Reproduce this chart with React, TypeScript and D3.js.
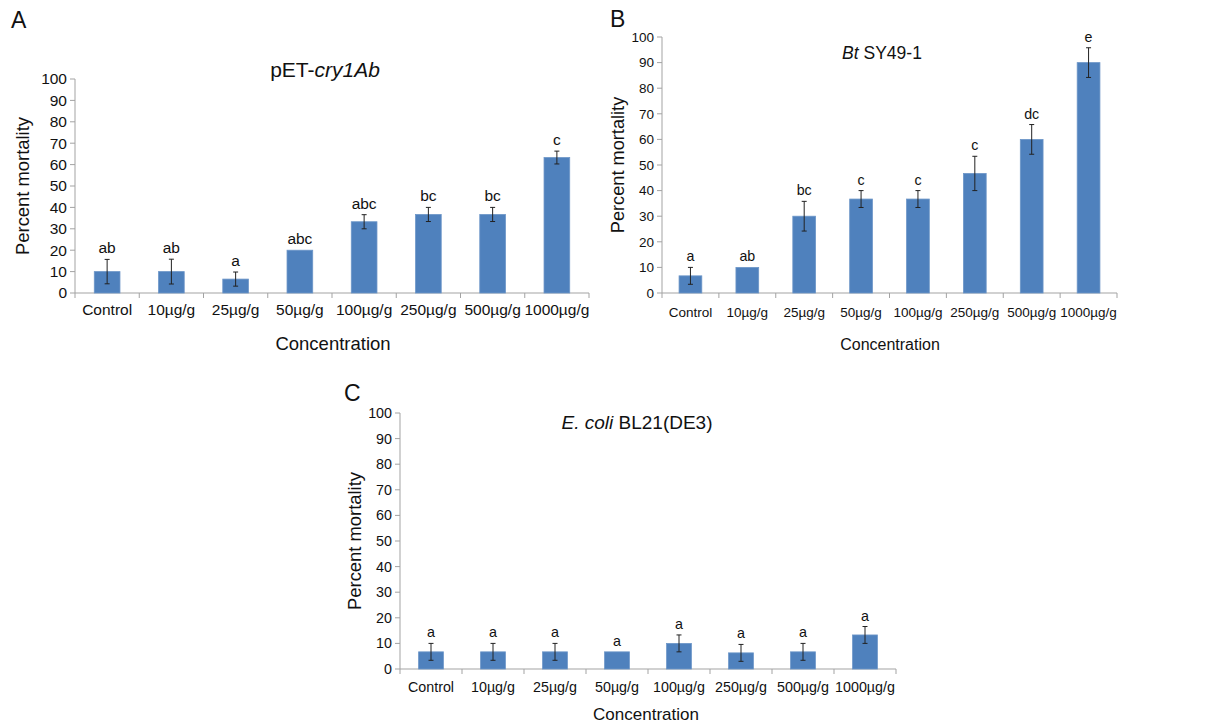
import React from "react";
import * as d3 from "d3";

// concentration groups, shared by all three panels
const categories = ["Control", "10µg/g", "25µg/g", "50µg/g", "100µg/g", "250µg/g", "500µg/g", "1000µg/g"];
const yTicks = [0, 10, 20, 30, 40, 50, 60, 70, 80, 90, 100];

// A: pET-cry1Ab
const cryValues = [10, 10, 6.5, 20, 33.3, 36.7, 36.7, 63.3];
const cryErrors = [5.7, 5.8, 3.3, 0, 3.3, 3.3, 3.3, 3];
const cryLetters = ["ab", "ab", "a", "abc", "abc", "bc", "bc", "c"];

// B: Bt SY49-1
const btValues = [6.7, 10, 30, 36.7, 36.7, 46.7, 60, 90];
const btErrors = [3.3, 0, 5.8, 3.3, 3.3, 6.7, 5.8, 5.8];
const btLetters = ["a", "ab", "bc", "c", "c", "c", "dc", "e"];

// C: E. coli BL21(DE3)
const ecoliValues = [6.7, 6.7, 6.7, 6.7, 10, 6.3, 6.7, 13.3];
const ecoliErrors = [3.3, 3.3, 3.3, 0, 3.3, 3.3, 3.3, 3.3];
const ecoliLetters = ["a", "a", "a", "a", "a", "a", "a", "a"];

const FONT = "'Liberation Sans', Arial, Helvetica, sans-serif";
const AXIS = "#a3a3a3";
const BAR = "#4f81bd";

type Part = { text: string; italic?: boolean };

type PanelProps = {
  values: number[];
  errors: number[];
  letters: string[];
  left: number;
  right: number;
  top: number;
  bottom: number;
  title: Part[];
  titleX: number;
  titleY: number;
  titleSize: number;
  tickSize: number;
  catOffset: number;
  yLabelX: number;
  yLabelSize: number;
  xLabelX: number;
  xLabelY: number;
  xLabelSize: number;
  letterSize: number;
  tag: string;
  tagX: number;
  tagY: number;
};

function Panel(p: PanelProps) {
  const x = d3.scaleBand<string>().domain(categories).range([p.left, p.right]).paddingInner(0.6).paddingOuter(0.3);
  const xb = d3.scaleBand<string>().domain(categories).range([p.left, p.right]);
  const y = d3.scaleLinear().domain([0, 100]).range([p.bottom, p.top]);
  const bw = x.bandwidth();

  return (
    <g fontFamily={FONT} fill="#111">
      <text x={p.tagX} y={p.tagY} fontSize={23}>{p.tag}</text>

      {/* y axis */}
      <line x1={p.left} x2={p.left} y1={p.top} y2={p.bottom} stroke={AXIS} />
      {yTicks.map(t => (
        <g key={t}>
          <line x1={p.left - 5} x2={p.left} y1={y(t)} y2={y(t)} stroke={AXIS} />
          <text x={p.left - 8} y={y(t)} dy="0.35em" textAnchor="end" fontSize={p.tickSize}>{t}</text>
        </g>
      ))}

      {/* x axis */}
      <line x1={p.left} x2={p.right} y1={p.bottom} y2={p.bottom} stroke={AXIS} />
      {categories.map((c, i) => (
        <line key={"t" + c} x1={xb(c)!} x2={xb(c)!} y1={p.bottom} y2={p.bottom + 5} stroke={AXIS} />
      ))}
      <line x1={p.right} x2={p.right} y1={p.bottom} y2={p.bottom + 5} stroke={AXIS} />
      {categories.map(c => (
        <text key={"l" + c} x={xb(c)! + xb.bandwidth() / 2} y={p.bottom + p.catOffset} textAnchor="middle" fontSize={p.tickSize}>{c}</text>
      ))}

      {/* bars, error bars, letters */}
      {categories.map((c, i) => {
        const v = p.values[i];
        const e = p.errors[i];
        const cx = x(c)! + bw / 2;
        const top = y(v + e);
        return (
          <g key={"b" + c}>
            <rect x={x(c)} y={y(v)} width={bw} height={p.bottom - y(v)} fill={BAR} stroke="#6d96c8" strokeWidth={0.8} />
            {e > 0 && (
              <g stroke="#222" strokeWidth={1}>
                <line x1={cx} x2={cx} y1={y(v - e)} y2={y(v + e)} />
                <line x1={cx - 2.5} x2={cx + 2.5} y1={y(v + e)} y2={y(v + e)} />
                <line x1={cx - 2.5} x2={cx + 2.5} y1={y(v - e)} y2={y(v - e)} />
              </g>
            )}
            <text x={cx} y={top - 6} textAnchor="middle" fontSize={p.letterSize}>{p.letters[i]}</text>
          </g>
        );
      })}

      <text x={p.titleX} y={p.titleY} textAnchor="middle" fontSize={p.titleSize}>
        {p.title.map((t, i) => (
          <tspan key={i} fontStyle={t.italic ? "italic" : "normal"}>{t.text}</tspan>
        ))}
      </text>

      <text transform={`translate(${p.yLabelX},${(p.top + p.bottom) / 2}) rotate(-90)`} textAnchor="middle" fontSize={p.yLabelSize}>Percent mortality</text>
      <text x={p.xLabelX} y={p.xLabelY} textAnchor="middle" fontSize={p.xLabelSize}>Concentration</text>
    </g>
  );
}

export default function App() {
  return (
    <svg width={1210} height={727} style={{ position: "absolute", left: 0, top: 0, background: "#fff" }}>
      <Panel
        values={cryValues} errors={cryErrors} letters={cryLetters}
        left={75} right={589} top={79} bottom={293}
        title={[{ text: "pET-" }, { text: "cry1Ab", italic: true }]}
        titleX={325} titleY={77} titleSize={21}
        tickSize={15.5} catOffset={22}
        yLabelX={29} yLabelSize={18.4}
        xLabelX={333} xLabelY={350} xLabelSize={18.5}
        letterSize={15.5}
        tag="A" tagX={11} tagY={28}
      />
      <Panel
        values={btValues} errors={btErrors} letters={btLetters}
        left={662} right={1117} top={37} bottom={293}
        title={[{ text: "Bt", italic: true }, { text: " SY49-1" }]}
        titleX={882} titleY={59} titleSize={17.5}
        tickSize={13.5} catOffset={24}
        yLabelX={624} yLabelSize={18.2}
        xLabelX={890} xLabelY={350} xLabelSize={16}
        letterSize={14.2}
        tag="B" tagX={610} tagY={27}
      />
      <Panel
        values={ecoliValues} errors={ecoliErrors} letters={ecoliLetters}
        left={400} right={896} top={413} bottom={669}
        title={[{ text: "E. coli", italic: true }, { text: " BL21(DE3)" }]}
        titleX={637} titleY={429} titleSize={19}
        tickSize={14.3} catOffset={23}
        yLabelX={361} yLabelSize={18.4}
        xLabelX={646} xLabelY={720} xLabelSize={17}
        letterSize={14.3}
        tag="C" tagX={344} tagY={401}
      />
    </svg>
  );
}
